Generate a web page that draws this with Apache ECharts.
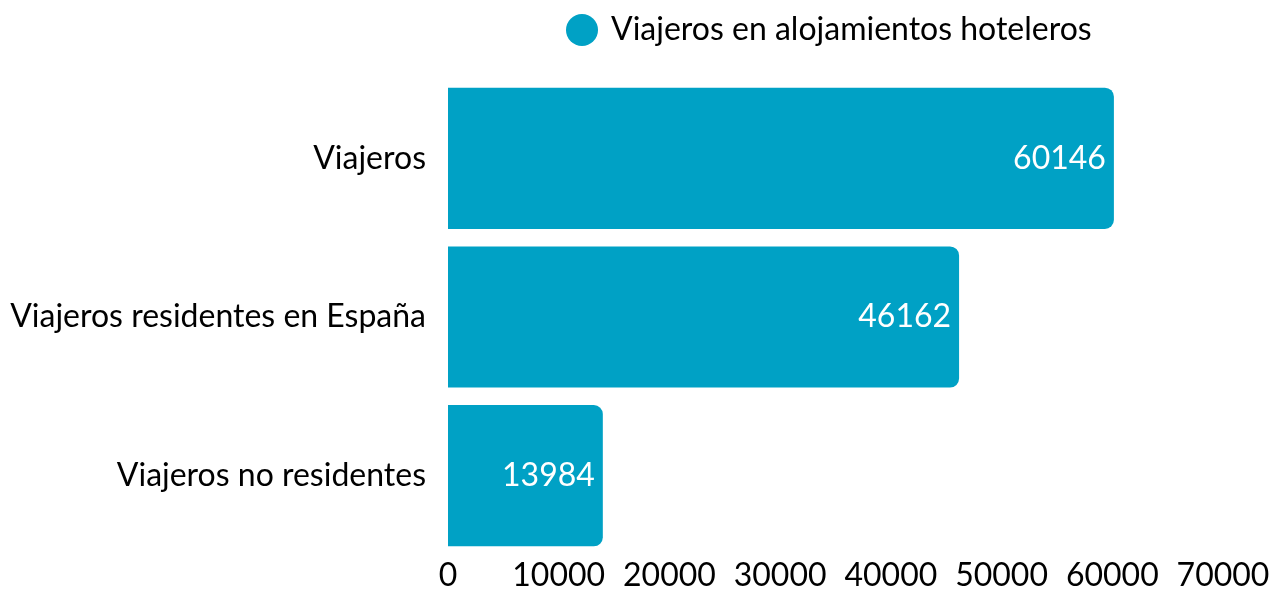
<!DOCTYPE html>
<html>
<head>
<meta charset="utf-8">
<script src="https://cdn.jsdelivr.net/npm/echarts@6/dist/echarts.min.js"></script>
<style>
  html, body { margin: 0; padding: 0; background: #fff; }
  #chart { width: 1275px; height: 590px; }
</style>
</head>
<body>
<div id="chart"></div>
<script>
var categories = ['Viajeros', 'Viajeros residentes en España', 'Viajeros no residentes']
var seriesName = 'Viajeros en alojamientos hoteleros'
var values = [60146, 46162, 13984]

var chart = echarts.init(document.getElementById('chart'))
chart.setOption({
  backgroundColor: '#fff',
  textStyle: { fontFamily: 'Lato' },
  legend: {
    top: 9,
    left: 561,
    icon: 'circle',
    itemWidth: 32,
    itemHeight: 32,
    itemGap: 10,
    textStyle: { fontSize: 32, color: '#000', fontFamily: 'Lato', padding: [0, 0, 0, 8] },
    data: [seriesName]
  },
  grid: {
    left: 448,
    right: 52,
    top: 79,
    bottom: 35,
    outerBoundsMode: 'none'
  },
  xAxis: {
    type: 'value',
    min: 0,
    max: 70000,
    interval: 10000,
    axisLine: { show: false },
    axisTick: { show: false },
    splitLine: { show: false },
    axisLabel: {
      fontSize: 32, color: '#000', margin: 5, fontFamily: 'Lato',
      formatter: function (v) { return String(v) }
    }
  },
  yAxis: {
    type: 'category',
    inverse: true,
    data: categories,
    axisLine: { show: false },
    axisTick: { show: false },
    axisLabel: { fontSize: 32, color: '#000', margin: 22, fontFamily: 'Lato' }
  },
  series: [{
    name: seriesName,
    type: 'bar',
    barCategoryGap: '11%',
    itemStyle: { color: '#00a1c5', borderRadius: [0, 9, 9, 0] },
    label: {
      show: true,
      position: 'insideRight',
      distance: 8,
      color: '#fff',
      fontSize: 32,
      fontFamily: 'Lato'
    },
    data: values
  }]
})
</script>
</body>
</html>
